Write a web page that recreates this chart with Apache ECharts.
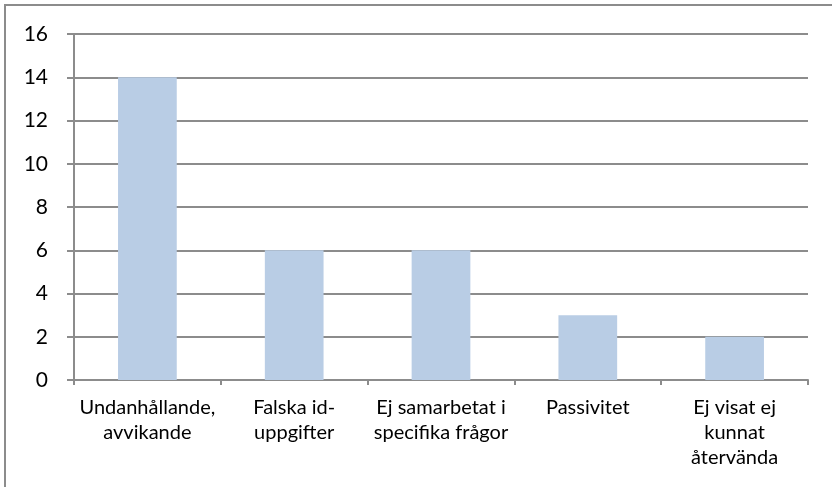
<!DOCTYPE html>
<html><head><meta charset="utf-8">
<script src="https://cdn.jsdelivr.net/npm/echarts@6/dist/echarts.min.js"></script>
<style>html,body{margin:0;padding:0;background:#fff}#c{width:832px;height:487px}</style>
</head><body><div id="c"></div>
<script>
const categories = ["Undanhållande,\navvikande", "Falska id-\nuppgifter", "Ej samarbetat i\nspecifika frågor", "Passivitet", "Ej visat ej\nkunnat\nåtervända"];
const values = [14, 6, 6, 3, 2];
const yTicks = [0, 2, 4, 6, 8, 10, 12, 14, 16];

const chart = echarts.init(document.getElementById('c'), null, {renderer: 'canvas'});
const font = 'Lato, "Noto Sans", sans-serif';
chart.setOption({
  animation: false,
  graphic: [{type: 'rect', shape: {x: 5, y: 5, width: 900, height: 600}, style: {fill: 'none', stroke: '#8c8c8c', lineWidth: 2}, silent: true, z: -1}],
  grid: {left: 74, right: 24, top: 34, bottom: 107, containLabel: false},
  xAxis: {
    type: 'category', data: categories, boundaryGap: true,
    axisLine: {lineStyle: {color: '#8c8c8c', width: 2}},
    axisTick: {show: true, length: 5, alignWithLabel: false, lineStyle: {color: '#8c8c8c', width: 2}},
    axisLabel: {color: '#000', fontFamily: font, fontSize: 20, lineHeight: 25, margin: 15, interval: 0}
  },
  yAxis: {
    type: 'value', min: yTicks[0], max: yTicks[yTicks.length - 1], interval: 2,
    axisLine: {show: true, lineStyle: {color: '#8c8c8c', width: 2}},
    axisTick: {show: true, length: 7, lineStyle: {color: '#8c8c8c', width: 2}},
    splitLine: {lineStyle: {color: '#8c8c8c', width: 2}},
    axisLabel: {color: '#000', fontFamily: font, fontSize: 21, margin: 26}
  },
  series: [{type: 'bar', data: values, barWidth: '40%', itemStyle: {color: '#B9CDE5'}}]
});
</script></body></html>
